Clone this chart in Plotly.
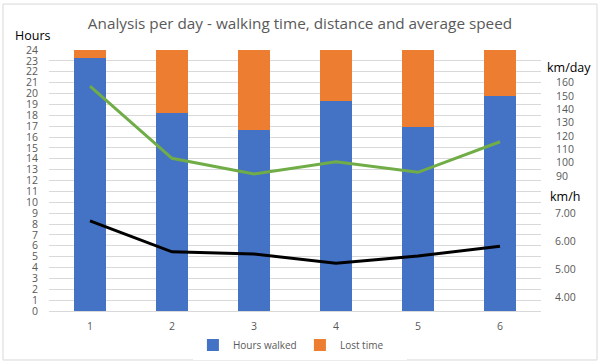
import plotly.graph_objects as go

days = ["1", "2", "3", "4", "5", "6"]
hours_walked = [23.3, 18.2, 16.6, 19.3, 16.95, 19.8]
lost_time = [round(24 - h, 2) for h in hours_walked]
km_per_day = [157.5, 103.3, 91.5, 100.7, 92.8, 115.7]
km_per_hour = [6.74, 5.63, 5.55, 5.22, 5.48, 5.83]

hour_ticks = list(range(0, 25))
kmday_ticks = [90, 100, 110, 120, 130, 140, 150, 160]
kmh_ticks = [4, 5, 6, 7]

GRAY = "#595959"
FONT = "Open Sans"

fig = go.Figure()
fig.add_trace(go.Bar(x=days, y=hours_walked, name="Hours walked",
                     marker=dict(color="#4472C4", line=dict(width=0))))
fig.add_trace(go.Bar(x=days, y=lost_time, name="Lost time",
                     marker=dict(color="#ED7D31", line=dict(width=0))))
fig.add_trace(go.Scatter(x=days, y=km_per_day, yaxis="y2", mode="lines",
                         line=dict(color="#70AD47", width=3), showlegend=False))
fig.add_trace(go.Scatter(x=days, y=km_per_hour, yaxis="y3", mode="lines",
                         line=dict(color="#000000", width=3), showlegend=False))

fig.update_layout(
    width=600, height=364,
    margin=dict(l=49, r=59, t=50, b=53, autoexpand=False),
    paper_bgcolor="white", plot_bgcolor="white",
    barmode="stack", bargap=0.6,
    font=dict(family=FONT, color=GRAY, size=10.5),
    title=dict(text="Analysis per day - walking time, distance and average speed",
               x=0.5, xref="container", xanchor="center", y=0.935, yref="container",
               yanchor="middle",
               font=dict(family=FONT, size=15.3, color=GRAY)),
    xaxis=dict(showgrid=False, showline=True, linecolor="#D9D9D9", linewidth=1,
               ticks="", tickfont=dict(size=10.5, color=GRAY), ticklabelstandoff=5,
               automargin=False),
    yaxis=dict(range=[0, 24], tickvals=hour_ticks, showgrid=True,
               gridcolor="#D9D9D9", gridwidth=1, zeroline=False, showline=False,
               tickfont=dict(size=10.5, color=GRAY), ticklabelstandoff=10,
               automargin=False),
    yaxis2=dict(overlaying="y", side="right", anchor="x",
                range=[-11.2, 184.5], tickvals=kmday_ticks,
                showgrid=False, zeroline=False, showline=False,
                tickfont=dict(size=10.5, color=GRAY), ticklabelstandoff=14,
                automargin=False),
    yaxis3=dict(overlaying="y", side="right", anchor="x",
                range=[3.5, 12.89], tickvals=kmh_ticks, tickformat=".2f",
                showgrid=False, zeroline=False, showline=False,
                tickfont=dict(size=10.5, color=GRAY), ticklabelstandoff=13,
                automargin=False),
    legend=dict(orientation="h", x=0.51, xanchor="center", y=-0.075, yanchor="top",
                font=dict(size=10, color=GRAY), itemwidth=30, entrywidth=62,
                traceorder="normal"),
    shapes=[dict(type="rect", xref="paper", yref="paper",
                 x0=-0.0935, x1=1.1138, y0=-0.1877, y1=1.176,
                 line=dict(color="#D9D9D9", width=1), fillcolor="rgba(0,0,0,0)",
                 layer="below")],
    annotations=[
        dict(text="Hours", xref="paper", yref="paper", x=-0.0325, y=1.057,
             xanchor="center", yanchor="middle", showarrow=False,
             font=dict(size=12.5, color="#000000", family=FONT)),
        dict(text="km/day", xref="paper", yref="paper", x=1.057, y=0.932,
             xanchor="center", yanchor="middle", showarrow=False,
             font=dict(size=12.5, color="#000000", family=FONT)),
        dict(text="km/h", xref="paper", yref="paper", x=1.049, y=0.437,
             xanchor="center", yanchor="middle", showarrow=False,
             font=dict(size=12.5, color="#000000", family=FONT)),
    ],
)

fig.write_html("out.html", config={"displayModeBar": False},
               post_script="document.body.style.margin='0';")
